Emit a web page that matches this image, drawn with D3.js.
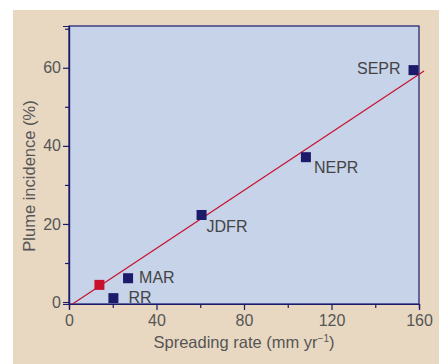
<!DOCTYPE html>
<html>
<head>
<meta charset="utf-8">
<script src="https://cdn.jsdelivr.net/npm/d3@7"></script>
<style>
  body { margin: 0; background: #fff; }
  text { font-family: "Liberation Sans", Arial, sans-serif; }
</style>
</head>
<body>
<div id="chart"></div>
<script>
const width = 439, height = 364;
const margin = { top: 26, right: 20, bottom: 60, left: 69 };

// ridge data: spreading rate (mm/yr) vs plume incidence (%)
const ridges = ["SEPR", "NEPR", "JDFR", "MAR", "RR"];
const rates = [157.5, 108.3, 60.6, 27, 20.3];
const incidence = [59.4, 37.1, 22.3, 6.1, 1.0];
const highlightPoint = [13.9, 4.4];
// regression line end points
const fitX = [1.6, 162.3];
const fitY = [-0.5, 59.2];
const xTicks = [0, 40, 80, 120, 160];
const xMinor = [20, 60, 100, 140];
const yTicks = [0, 20, 40, 60];
const yMinor = [10, 30, 50, 70];

const navy = "#1c1a6b", red = "#c8102e", textCol = "#555";

const svg = d3.select("#chart").append("svg")
  .attr("width", width).attr("height", height);

svg.append("rect").attr("x", 13).attr("y", 10)
  .attr("width", width - 13).attr("height", height - 10)
  .attr("fill", "#e8d8c2");

const x = d3.scaleLinear().domain([0, 160]).range([margin.left, width - margin.right]);
const y = d3.scaleLinear().domain([-0.5, 70.7]).range([height - margin.bottom, margin.top]);

svg.append("rect")
  .attr("x", x(0)).attr("y", y(70.7))
  .attr("width", x(160) - x(0)).attr("height", y(-0.5) - y(70.7))
  .attr("fill", "#c6d3e9").attr("stroke", navy).attr("stroke-width", 1.2);

// axes
svg.append("g")
  .attr("transform", `translate(0,${y(-0.5)})`)
  .call(d3.axisBottom(x).tickValues(xTicks).tickSize(6).tickPadding(4.5));
svg.append("g")
  .attr("transform", `translate(0,${y(-0.5)})`)
  .call(d3.axisBottom(x).tickValues(xMinor).tickSize(4).tickFormat(""));
svg.append("g")
  .attr("transform", `translate(${x(0)},0)`)
  .call(d3.axisLeft(y).tickValues(yTicks).tickSize(6).tickPadding(2));
svg.append("g")
  .attr("transform", `translate(${x(0)},0)`)
  .call(d3.axisLeft(y).tickValues(yMinor).tickSize(4).tickFormat(""));

svg.selectAll(".domain").attr("stroke", navy).attr("stroke-width", 1.2);
svg.selectAll(".tick line").attr("stroke", navy).attr("stroke-width", 1.2);
svg.selectAll(".tick text").attr("fill", textCol).style("font-size", "16px")
  .style("font-family", "Liberation Sans, Arial, sans-serif");

// regression line
svg.append("line")
  .attr("x1", x(fitX[0])).attr("y1", y(fitY[0]))
  .attr("x2", x(fitX[1])).attr("y2", y(fitY[1]))
  .attr("stroke", red).attr("stroke-width", 1.2);

const pts = ridges.map((name, i) => ({ name, rate: rates[i], inc: incidence[i] }));
const s = 10;
svg.selectAll("rect.pt").data(pts).join("rect")
  .attr("class", "pt")
  .attr("x", d => x(d.rate) - s / 2).attr("y", d => y(d.inc) - s / 2)
  .attr("width", s).attr("height", s).attr("fill", navy);

svg.append("rect")
  .attr("x", x(highlightPoint[0]) - s / 2).attr("y", y(highlightPoint[1]) - s / 2)
  .attr("width", s).attr("height", s).attr("fill", red);

// labels: offset of text baseline from each point
const labelOff = { SEPR: [-13, 3.5, "end"], NEPR: [8, 16, "start"], JDFR: [5, 17.3, "start"],
                   MAR: [11, 5, "start"], RR: [15, 5, "start"] };
svg.selectAll("text.lab").data(pts).join("text")
  .attr("class", "lab")
  .attr("x", d => x(d.rate) + labelOff[d.name][0])
  .attr("y", d => y(d.inc) + labelOff[d.name][1])
  .attr("text-anchor", d => labelOff[d.name][2])
  .attr("fill", "#444").style("font-size", "16px")
  .text(d => d.name);

// axis titles
const xt = svg.append("text")
  .attr("x", 244).attr("y", 347.5)
  .attr("text-anchor", "middle").attr("fill", textCol).style("font-size", "16.5px");
xt.append("tspan").text("Spreading rate (mm yr");
xt.append("tspan").attr("dy", -6).style("font-size", "10px").text("−1");
xt.append("tspan").attr("dy", 6).text(")");

svg.append("text")
  .attr("transform", `translate(35,176) rotate(-90)`)
  .attr("text-anchor", "middle").attr("fill", textCol).style("font-size", "16.5px")
  .text("Plume incidence (%)");
</script>
</body>
</html>
